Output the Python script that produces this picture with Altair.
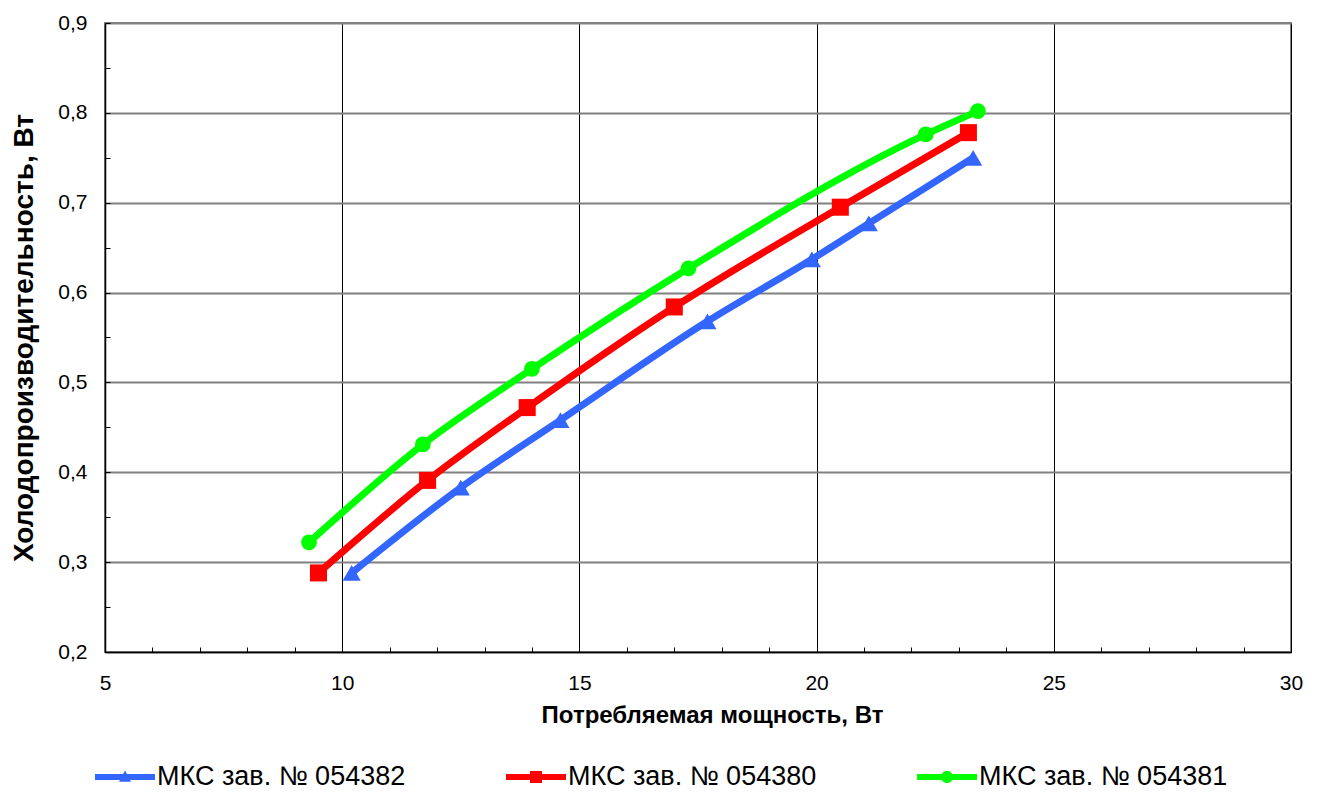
import altair as alt
import pandas as pd

# ---- data ----
series_names = ["МКС зав. № 054382", "МКС зав. № 054380", "МКС зав. № 054381"]
series_colors = ["#3366ff", "#ff0000", "#00ff00"]
series_shapes = ["triangle-up", "square", "circle"]
series_marker_sizes = [330, 250, 225]

blue_x = [10.2, 12.5, 14.6, 17.7, 19.9, 21.1, 23.3]
blue_y = [0.288, 0.383, 0.458, 0.568, 0.637, 0.677, 0.750]

red_x = [9.5, 11.8, 13.9, 17.0, 20.5, 23.2]
red_y = [0.288, 0.391, 0.472, 0.584, 0.695, 0.778]

green_x = [9.3, 11.7, 14.0, 17.3, 22.3, 23.4]
green_y = [0.322, 0.431, 0.515, 0.627, 0.776, 0.802]

x_ticks_major = [5, 10, 15, 20, 25, 30]
x_ticks_minor = list(range(5, 31))
y_ticks_major = [0.2, 0.3, 0.4, 0.5, 0.6, 0.7, 0.8, 0.9]
y_ticks_minor = [round(0.2 + 0.05 * i, 2) for i in range(15)]

x_title = "Потребляемая мощность, Вт"
y_title = "Холодопроизводительность, Вт"

rows = []
for name, xs, ys in zip(series_names, [blue_x, red_x, green_x], [blue_y, red_y, green_y]):
    for i, (xv, yv) in enumerate(zip(xs, ys)):
        rows.append({"series": name, "power": xv, "cooling": yv, "order": i})
df = pd.DataFrame(rows)

FONT = "Liberation Sans"

# legend symbols: a thick line segment with the marker in the middle
bar = "M-1,-0.1 L1,-0.1 L1,0.1 L-1,0.1 Z "
legend_paths = [
    bar + "M-0.2,0.16 L0,-0.22 L0.2,0.16 Z",
    bar + "M-0.2,-0.2 L0.2,-0.2 L0.2,0.2 L-0.2,0.2 Z",
    bar + "M-0.2,0 A0.2,0.2 0 1,1 0.2,0 A0.2,0.2 0 1,1 -0.2,0 Z",
]

x_scale = alt.Scale(domain=[5, 30], nice=False, zero=False)
y_scale = alt.Scale(domain=[0.2, 0.9], nice=False, zero=False)
color_scale = alt.Scale(domain=series_names, range=series_colors)

x_major = alt.Axis(
    orient="bottom", values=x_ticks_major, grid=True, gridColor="#000000", gridWidth=1,
    ticks=False, domainColor="#000000", domainWidth=1.5, labelFlush=False,
    labelFont=FONT, labelFontSize=21, labelColor="#000000", labelPadding=20,
    title=x_title, titleFont=FONT, titleFontSize=24, titleFontWeight="bold",
    titleColor="#000000", titlePadding=10, titleX=607, titleAlign="center",
)
y_major = alt.Axis(
    orient="left", values=y_ticks_major, grid=True, gridColor="#808080", gridWidth=2,
    ticks=False, domainColor="#000000", domainWidth=1.5, labelFlush=False,
    labelFont=FONT, labelFontSize=21, labelColor="#000000", labelPadding=18,
    labelExpr="replace(format(datum.value, '.1f'), '.', ',')",
    title=y_title, titleFont=FONT, titleFontSize=28, titleFontWeight="bold",
    titleColor="#000000", titlePadding=19,
)
x_minor = alt.Axis(
    orient="bottom", values=x_ticks_minor, grid=False, domain=False, labels=False,
    ticks=True, tickSize=5, tickColor="#000000", tickWidth=1, offset=-5, title=None,
)
y_minor = alt.Axis(
    orient="left", values=y_ticks_minor, grid=False, domain=False, labels=False,
    ticks=True, tickSize=5, tickColor="#000000", tickWidth=1, offset=-5, title=None,
)

lines = alt.Chart(df).mark_line(strokeWidth=7, interpolate="monotone").encode(
    x=alt.X("power:Q", scale=x_scale, axis=x_major),
    y=alt.Y("cooling:Q", scale=y_scale, axis=y_major),
    color=alt.Color("series:N", scale=color_scale, legend=None),
    order="order:Q",
)

points = alt.Chart(df).mark_point(filled=True, opacity=1).encode(
    x=alt.X("power:Q", scale=x_scale, axis=x_minor),
    y=alt.Y("cooling:Q", scale=y_scale, axis=y_minor),
    color=alt.Color("series:N", scale=color_scale, legend=None),
    shape=alt.Shape("series:N", scale=alt.Scale(domain=series_names, range=series_shapes), legend=None),
    size=alt.Size("series:N", scale=alt.Scale(domain=series_names, range=series_marker_sizes), legend=None),
)

leg = alt.Legend(
    orient="none", legendX=-10, legendY=724, direction="horizontal", title=None,
    labelFont=FONT, labelFontSize=27, labelColor="#000000", labelOffset=2, labelLimit=0,
    symbolSize=3600, symbolStrokeWidth=0, columnPadding=100,
)
legend_layer = alt.Chart(df).transform_filter("false").mark_point(filled=True, opacity=1).encode(
    x=alt.X("power:Q", scale=x_scale, axis=None),
    y=alt.Y("cooling:Q", scale=y_scale, axis=None),
    color=alt.Color("series:N", scale=color_scale, legend=leg),
    shape=alt.Shape("series:N", scale=alt.Scale(domain=series_names, range=legend_paths), legend=leg),
)

chart = alt.layer(lines, points, legend_layer).resolve_scale(
    color="independent", shape="independent", size="independent"
).resolve_axis(
    x="independent", y="independent"
).properties(
    width=1186, height=629,
    autosize=alt.AutoSizeParams(type="none"),
    padding={"left": 97, "top": 15, "right": 21, "bottom": 150},
    background="#ffffff",
).configure_view(stroke="#808080", strokeWidth=2)

chart.save("out.html", embed_options={"renderer": "svg", "actions": False})
